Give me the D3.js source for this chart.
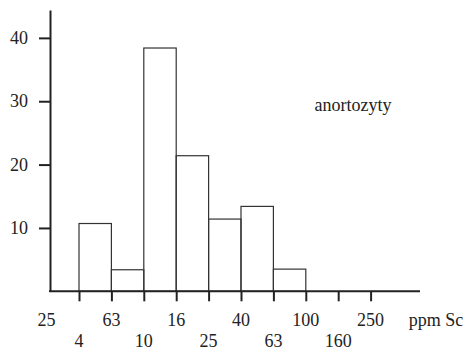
<!DOCTYPE html>
<html>
<head>
<meta charset="utf-8">
<script src="https://cdn.jsdelivr.net/npm/d3@7"></script>
<style>
  html, body { margin: 0; padding: 0; background: #fff; }
  svg { display: block; }
</style>
</head>
<body>
<svg id="chart" width="476" height="351"></svg>
<script>
// Class boundaries (ppm Sc) and their printed labels
const edges = [2.5, 4, 6.3, 10, 16, 25, 40, 63, 100, 160, 250];
const edgeLabels = ["25", "4", "63", "10", "16", "25", "40", "63", "100", "160", "250"];

// Histogram classes: lower bound, upper bound, frequency
const binLow = [4, 6.3, 10, 16, 25, 40, 63];
const binHigh = [6.3, 10, 16, 25, 40, 63, 100];
const counts = [10.7, 3.4, 38.4, 21.4, 11.4, 13.4, 3.5];

const yTicks = [10, 20, 30, 40];
const seriesName = "anortozyty";
const unitLabel = "ppm Sc";

const svg = d3.select("#chart");

const x = d3.scalePoint().domain(edges).range([46.6, 370.6]);
const y = d3.scaleLinear().domain([0, 44.4]).range([291.3, 10]);

const axisX0 = 50, axisX1 = 420;
const fontSize = 18;

function styleText(sel) {
  sel.style("font-family", "'Liberation Serif'")
    .style("font-size", fontSize + "px")
    .style("fill", "#222");
}

// Bars
const bins = binLow.map((lo, i) => ({ lo, hi: binHigh[i], v: counts[i] }));
svg.append("g")
  .selectAll("rect")
  .data(bins)
  .join("rect")
  .attr("x", d => x(d.lo))
  .attr("y", d => y(d.v))
  .attr("width", d => x(d.hi) - x(d.lo))
  .attr("height", d => y(0) - y(d.v))
  .attr("fill", "none")
  .attr("stroke", "#333")
  .attr("stroke-width", 1.2);

// Y axis
const yAxis = svg.append("g")
  .attr("transform", `translate(${axisX0},0)`)
  .call(d3.axisLeft(y).tickValues(yTicks).tickSize(11).tickSizeOuter(0).tickPadding(11));
yAxis.attr("font-family", null).attr("font-size", null);
yAxis.select(".domain").attr("stroke", "#222").attr("stroke-width", 2);
yAxis.selectAll(".tick line").attr("stroke", "#222").attr("stroke-width", 2);
yAxis.selectAll(".tick text").call(styleText);

// X axis
const xAxis = svg.append("g")
  .attr("transform", `translate(0,${y(0)})`)
  .call(d3.axisBottom(x).tickValues(edges.slice(1)).tickSize(10).tickFormat(""));
xAxis.select(".domain").remove();
xAxis.selectAll(".tick line").attr("stroke", "#222").attr("stroke-width", 2);
xAxis.append("line")
  .attr("x1", axisX0 - 1).attr("x2", axisX1)
  .attr("stroke", "#222").attr("stroke-width", 2);

// Boundary labels in two staggered rows
svg.append("g")
  .selectAll("text")
  .data(edges)
  .join("text")
  .attr("x", d => x(d))
  .attr("y", (d, i) => i % 2 === 0 ? 326 : 347)
  .attr("text-anchor", "middle")
  .text((d, i) => edgeLabels[i])
  .call(styleText);

svg.append("text")
  .attr("x", 436)
  .attr("y", 326)
  .attr("text-anchor", "middle")
  .text(unitLabel)
  .call(styleText);

svg.append("text")
  .attr("x", 353)
  .attr("y", 111)
  .attr("text-anchor", "middle")
  .text(seriesName)
  .call(styleText);
</script>
</body>
</html>
